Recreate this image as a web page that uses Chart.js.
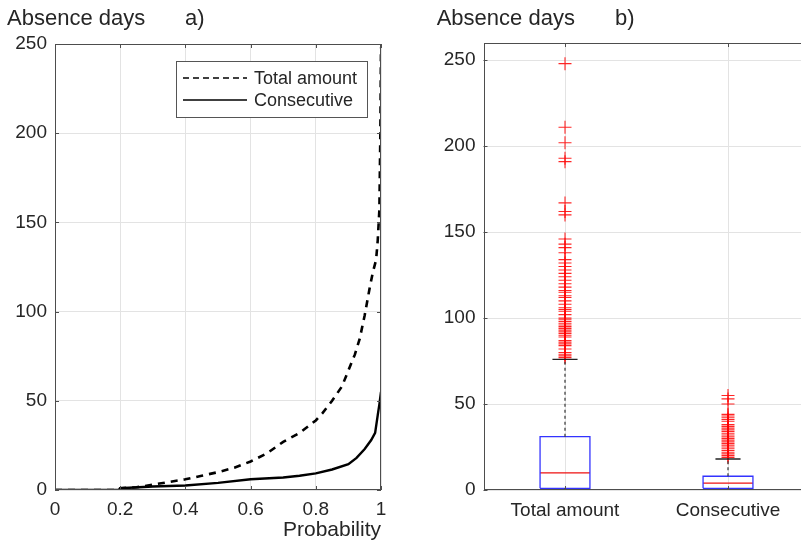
<!DOCTYPE html>
<html>
<head>
<meta charset="utf-8">
<script src="https://cdn.jsdelivr.net/npm/chart.js@4.4.0/dist/chart.umd.min.js"></script>
<style>
  html, body { margin: 0; padding: 0; background: #fff; overflow: hidden; width: 801px; height: 544px; }
  canvas { position: absolute; top: 0; }
  #left { left: 0; }
  #right { left: 420px; }
</style>
</head>
<body>
<canvas id="left" width="420" height="544"></canvas>
<canvas id="right" width="400" height="544"></canvas>
<script>
// a) quantile curves: absence days vs probability
const probTotal  = [0, 0.195, 0.2, 0.25, 0.3, 0.35, 0.4, 0.45, 0.5, 0.55, 0.6, 0.65, 0.7, 0.75, 0.8, 0.82, 0.85, 0.88, 0.9, 0.92, 0.935, 0.95, 0.965, 0.975, 0.985, 0.99, 0.995, 0.998, 1.0];
const daysTotal  = [0, 0, 1, 1.5, 3, 4.5, 6, 8, 10, 12.5, 16, 20.5, 27, 32, 39, 43, 50, 58, 67, 76, 85, 98, 113, 122, 129, 140, 157, 200, 248];
const probConsec = [0, 0.195, 0.2, 0.3, 0.4, 0.5, 0.6, 0.7, 0.75, 0.8, 0.85, 0.9, 0.925, 0.95, 0.97, 0.982, 0.99, 0.995, 1.0];
const daysConsec = [0, 0, 1, 2, 2.5, 4, 6, 7, 8, 9.3, 11.5, 14.5, 18, 23, 28, 32, 42, 48, 55];
const probTicks = [0, 0.2, 0.4, 0.6, 0.8, 1];
const dayTicks  = [0, 50, 100, 150, 200, 250];

// b) boxplot statistics
const categories   = ['Total amount', 'Consecutive'];
const lowerWhisker = [0, 0];
const q1           = [1, 1];
const median       = [10, 4];
const q3           = [31, 8];
const upperWhisker = [76, 18];
const outliersTotal = [248, 211, 202, 193, 191, 167, 162, 160, 146, 143, 141, 138, 134, 132, 130, 128, 126, 124, 122, 120, 118, 116, 115, 113, 112, 110, 108, 106, 105, 104, 102, 100, 99, 98, 97, 96, 95, 94, 93, 92, 91, 90, 89, 87, 86, 85, 84, 82, 80, 79, 78, 77];
const outliersConsec = [55, 53, 50, 44, 43, 42, 41, 40, 38, 37, 36, 35, 34, 33, 32, 31, 30, 29, 28, 27, 26, 25, 24, 23, 22, 21, 20, 19];

const textColor = '#262626';
const axisColor = '#4d4d4d';
const gridColor = '#e3e3e3';
const fontFamily = '"Liberation Sans", Arial, Helvetica, sans-serif';

Chart.defaults.font.family = fontFamily;
Chart.defaults.font.size = 19;
Chart.defaults.color = textColor;

const toPoints = (xs, ys) => xs.map((x, i) => ({ x, y: ys[i] }));

// frame + inward ticks + title, MATLAB style
function framePlugin(titleX, panelLabel, labelX, legend) {
    return {
        id: 'frame',
        afterDraw(chart) {
            const { ctx, chartArea: a, scales } = chart;
            ctx.save();
            ctx.strokeStyle = axisColor;
            ctx.lineWidth = 1;
            ctx.strokeRect(Math.round(a.left) + 0.5, Math.round(a.top) + 0.5,
                Math.round(a.right - a.left) - 1, Math.round(a.bottom - a.top) - 1);
            const tl = 4;
            ctx.beginPath();
            scales.x.ticks.forEach(t => {
                const px = Math.round(scales.x.getPixelForValue(t.value)) + 0.5;
                ctx.moveTo(px, a.bottom); ctx.lineTo(px, a.bottom - tl);
                ctx.moveTo(px, a.top); ctx.lineTo(px, a.top + tl);
            });
            scales.y.ticks.forEach(t => {
                const py = Math.round(scales.y.getPixelForValue(t.value)) + 0.5;
                ctx.moveTo(a.left, py); ctx.lineTo(a.left + tl, py);
                ctx.moveTo(a.right, py); ctx.lineTo(a.right - tl, py);
            });
            ctx.stroke();

            ctx.fillStyle = textColor;
            ctx.font = '22px ' + fontFamily;
            ctx.textBaseline = 'alphabetic';
            ctx.textAlign = 'left';
            ctx.fillText('Absence days', titleX, 25);
            ctx.fillText(panelLabel, labelX, 25);

            if (legend) {
                const lx = 176, ly = 61, lw = 191, lh = 56;
                ctx.fillStyle = '#fff';
                ctx.fillRect(lx, ly, lw, lh);
                ctx.strokeStyle = '#555';
                ctx.strokeRect(lx + 0.5, ly + 0.5, lw, lh);
                ctx.strokeStyle = '#000';
                ctx.lineWidth = 1.6;
                legend.forEach((item, i) => {
                    const y = ly + 17 + i * 22;
                    ctx.setLineDash(item.dash);
                    ctx.beginPath();
                    ctx.moveTo(lx + 7, y); ctx.lineTo(lx + 71, y);
                    ctx.stroke();
                    ctx.setLineDash([]);
                    ctx.fillStyle = textColor;
                    ctx.font = '18px ' + fontFamily;
                    ctx.textBaseline = 'middle';
                    ctx.fillText(item.label, lx + 78, y + 1);
                });
            }
            ctx.restore();
        }
    };
}

const legendItems = [
    { label: 'Total amount', dash: [6, 4] },
    { label: 'Consecutive', dash: [] }
];

// Panel a)
new Chart(document.getElementById('left'), {
    type: 'scatter',
    data: {
        datasets: [
            { label: 'Total amount', data: toPoints(probTotal, daysTotal), showLine: true, pointRadius: 0,
              borderColor: '#000', borderWidth: 2.6, borderDash: [7, 6] },
            { label: 'Consecutive', data: toPoints(probConsec, daysConsec), showLine: true, pointRadius: 0,
              borderColor: '#000', borderWidth: 2.4 }
        ]
    },
    options: {
        responsive: false,
        animation: false,
        events: [],
        layout: { padding: { top: 44, right: 39, left: 0, bottom: 0 } },
        plugins: { legend: { display: false }, tooltip: { enabled: false } },
        scales: {
            x: {
                type: 'linear', min: 0, max: 1,
                afterBuildTicks: s => { s.ticks = probTicks.map(v => ({ value: v })); },
                afterFit: s => { s.height = 54; },
                ticks: { padding: 8, maxRotation: 0, callback: v => String(v) },
                grid: { color: gridColor, drawTicks: false },
                border: { display: false },
                title: { display: true, text: 'Probability', align: 'end', font: { size: 21 }, padding: { top: 0, bottom: 1 } }
            },
            y: {
                type: 'linear', min: 0, max: 250,
                afterBuildTicks: s => { s.ticks = dayTicks.map(v => ({ value: v })); },
                afterFit: s => { s.width = 55; },
                ticks: { padding: 8 },
                grid: { color: gridColor, drawTicks: false },
                border: { display: false }
            }
        }
    },
    plugins: [framePlugin(7, 'a)', 185, legendItems)]
});

// Panel b) boxplot built from line segments and cross markers
const boxHalf = 0.153, capHalf = 0.077;
const boxDatasets = [];
const seg = (pts, color, width, dash) => boxDatasets.push({
    data: pts.map(p => ({ x: p[0], y: p[1] })), showLine: true, pointRadius: 0,
    borderColor: color, borderWidth: width, borderDash: dash || []
});
categories.forEach((c, i) => {
    const x = i + 1;
    seg([[x, q3[i]], [x, upperWhisker[i]]], '#333', 1.2, [3, 3]);
    seg([[x, lowerWhisker[i]], [x, q1[i]]], '#333', 1.2, [3, 3]);
    seg([[x - capHalf, upperWhisker[i]], [x + capHalf, upperWhisker[i]]], '#222', 1.4);
    seg([[x - capHalf, lowerWhisker[i]], [x + capHalf, lowerWhisker[i]]], '#222', 1.4);
    seg([[x - boxHalf, q1[i]], [x + boxHalf, q1[i]], [x + boxHalf, q3[i]], [x - boxHalf, q3[i]], [x - boxHalf, q1[i]]], '#3333ff', 1.3);
    seg([[x - boxHalf, median[i]], [x + boxHalf, median[i]]], '#ee1111', 1.2);
});
[outliersTotal, outliersConsec].forEach((vals, i) => {
    boxDatasets.push({
        data: vals.map(v => ({ x: i + 1, y: v })),
        pointStyle: 'cross', pointRadius: 6.5, borderColor: 'rgba(255,0,0,0.85)', borderWidth: 1.1,
        backgroundColor: 'rgba(255,0,0,0.85)'
    });
});

new Chart(document.getElementById('right'), {
    type: 'scatter',
    data: { datasets: boxDatasets },
    options: {
        responsive: false,
        animation: false,
        events: [],
        layout: { padding: { top: 43, right: 10.5, left: 0, bottom: 0 } },
        plugins: { legend: { display: false }, tooltip: { enabled: false } },
        scales: {
            x: {
                type: 'linear', min: 0.5, max: 2.5,
                afterBuildTicks: s => { s.ticks = categories.map((c, i) => ({ value: i + 1 })); },
                afterFit: s => { s.height = 54; },
                ticks: { padding: 9, maxRotation: 0, autoSkip: false, callback: v => categories[v - 1] },
                grid: { color: gridColor, drawTicks: false },
                border: { display: false }
            },
            y: {
                type: 'linear', min: 0, max: 260,
                afterBuildTicks: s => { s.ticks = dayTicks.map(v => ({ value: v })); },
                afterFit: s => { s.width = 63.5; },
                ticks: { padding: 8 },
                grid: { color: gridColor, drawTicks: false },
                border: { display: false }
            }
        }
    },
    plugins: [framePlugin(16.7, 'b)', 195, null)]
});
</script>
</body>
</html>
